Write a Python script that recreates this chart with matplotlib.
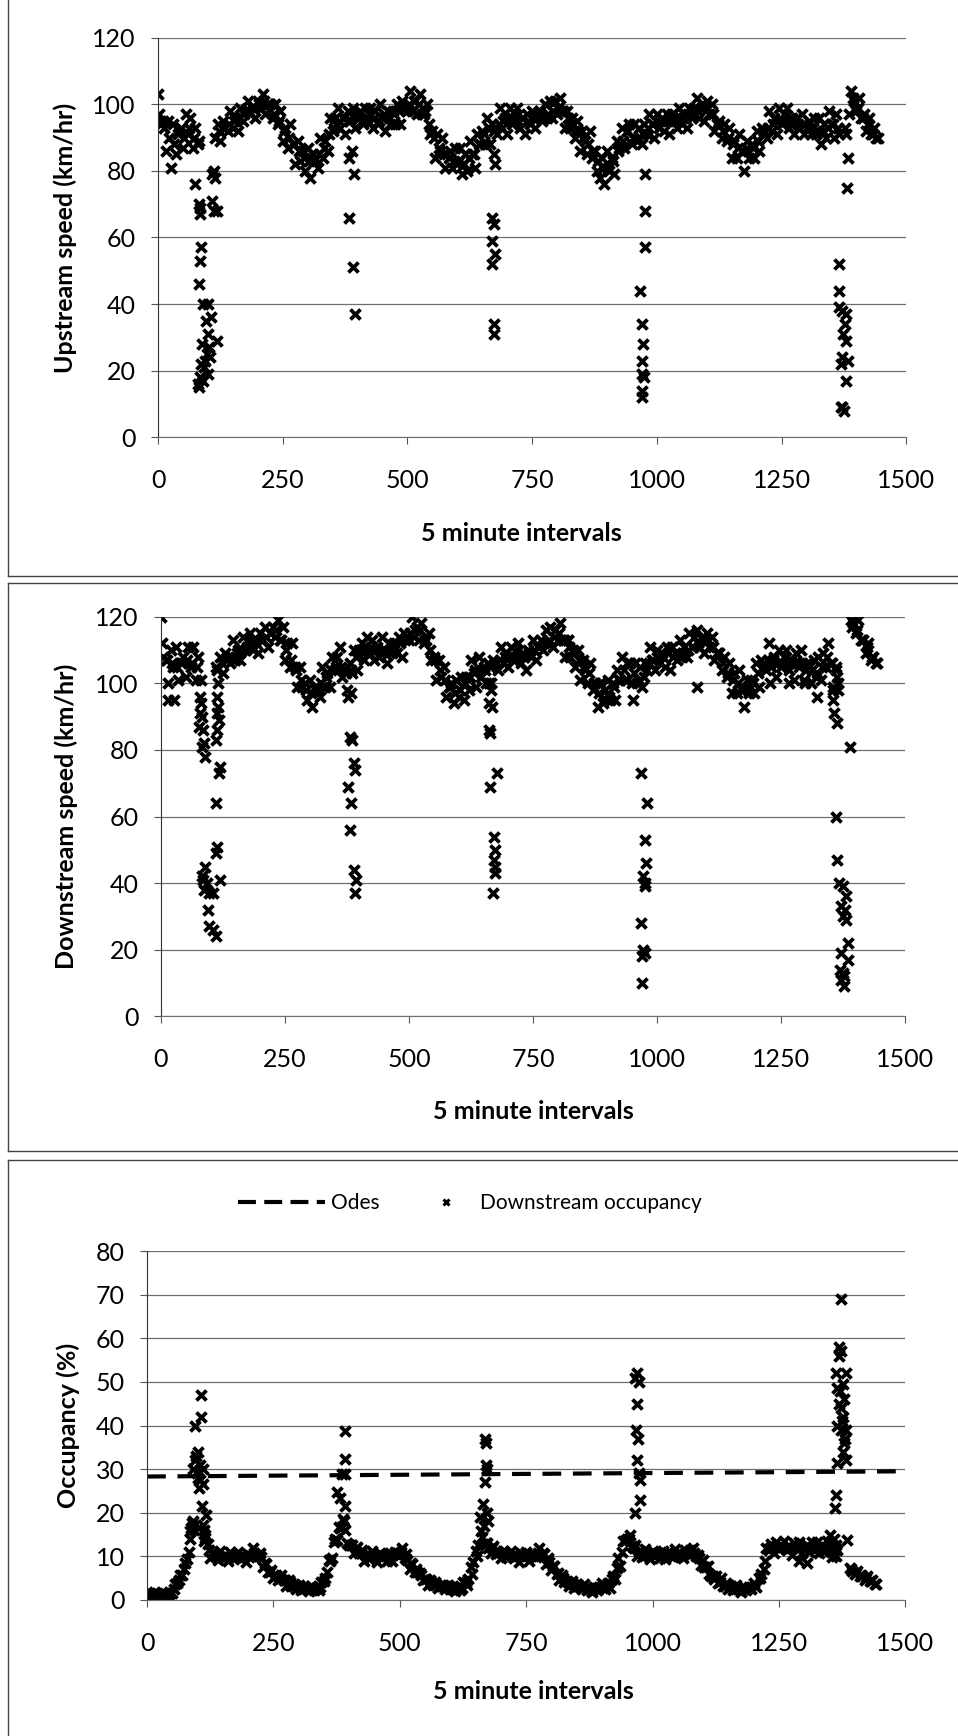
import matplotlib
matplotlib.use("Agg")
import matplotlib.pyplot as plt
from matplotlib.lines import Line2D
import numpy as np

plt.rcParams['font.family'] = ['Lato', 'DejaVu Sans']

nan = np.nan
STEP = 5  # band readings taken every 5 intervals from 0
MID_STEP = 10  # middle-of-band readings every 10 intervals from 2.5

# ------------------------------
# Upstream speed (km/hr)
# ------------------------------
up_band = [
    103, 94, 95, 86, 95, 81, 94, 85, 91, 93, 87, 97,
    91, 96, 87, 93, 88, nan, nan, nan, nan, nan, nan, 90,
    94, 89, 95, 93, 92, 98, 93, 96, 92, 99, 95, 98,
    101, 97, 99, 96, 101, 99, 103, 97, 100, 100, 96, 100,
    94, 98, 89, 93, 87, 94, 88, 82, 89, 83, 86, 80,
    87, 78, 85, 84, 81, 90, 84, 89, 86, 96, 92, 96,
    99, 93, 96, 91, 98, 95, 99, 93, 96, 98, 94, 99,
    95, 99, 93, 98, 94, 100, 96, 92, 98, 94, 98, 94,
    100, 94, 101, 99, 98, 104, 98, 101, 97, 103, 97, 98,
    100, 91, 92, 84, 91, 86, 90, 81, 85, 86, 81, 87,
    82, 87, 79, 85, 80, 89, 85, 81, 91, 88, 92, 88,
    96, 88, 94, 93, 91, 99, 93, 96, 91, 99, 94, 97,
    99, 93, 96, 91, 97, 94, 98, 93, 96, 98, 95, 100,
    96, 101, 96, 101, 97, 102, 98, 93, 98, 93, 96, 90,
    95, 86, 92, 89, 85, 92, 84, 86, 80, 78, 84, 76,
    86, 80, 84, 79, 89, 87, 93, 87, 92, 94, 88, 94,
    89, 93, 88, 94, 91, 97, 94, 90, 97, 93, 96, 92,
    97, 91, 97, 95, 93, 99, 94, 97, 93, 99, 96, 99,
    102, 96, 100, 95, 101, 97, 100, 92, 94, 95, 90, 94,
    89, 93, 84, 89, 84, 91, 86, 80, 89, 84, 88, 84,
    92, 86, 93, 92, 90, 98, 92, 96, 91, 99, 94, 97,
    99, 93, 96, 91, 96, 93, 97, 91, 93, 95, 91, 96,
    91, 96, 88, 94, 90, 98, 94, 90, 97, 91, nan, nan,
    nan, 97, 104, 101, 98, 102, 96, 97, 92, 96, 91, 93,
    90,
]
up_mid = [
    97, 93, 90, 88, 92, 90, 93, 90, 89, nan, nan, nan,
    92, 93, 94, 95, 96, 97, 98, 99, 100, 101, 100, 97,
    95, 92, 90, 88, 86, 84, 83, 83, 85, 87, 91, 93,
    95, 96, 95, 97, 96, 95, 97, 96, 95, 97, 96, 97,
    98, 99, 100, 101, 100, 97, 94, 90, 87, 85, 84, 83,
    83, 82, 84, 85, 88, 91, 93, 92, 94, 95, 96, 95,
    95, 96, 95, 96, 97, 96, 97, 98, 99, 98, 96, 94,
    92, 90, 88, 86, 83, 81, 81, 83, 86, 89, 92, 90,
    90, 91, 93, 94, 95, 95, 95, 96, 95, 96, 97, 97,
    98, 99, 99, 97, 94, 92, 90, 88, 87, 86, 86, 87,
    89, 91, 93, 94, 95, 95, 95, 95, 94, 94, 93, 93,
    92, 92, 93, 94, 93, nan, nan, 102, 99, 96, 94, 91,
    90,
]
up_out_x = [75, 82, 84, 85, 87, 84, 82, 90, 101, 96, 107, 100, 118, 88, 82, 85, 92,
            95, 98, 103, 90, 100, 105, 80, 87, 108, 112, 118, 112, 115, 108,
            382, 390, 394, 382, 388, 392,
            670, 673, 670, 675, 670, 673, 673, 673, 675,
            976, 976, 976, 967, 971, 973, 970, 971, 975, 970, 970,
            1383, 1381, 1365, 1366, 1365, 1371, 1379, 1378, 1373, 1380, 1372,
            1384, 1369, 1380, 1372, 1375, 1369, 1378, 1380]
up_out_y = [76, 70, 69, 67, 57, 53, 46, 40, 40, 35, 36, 31, 29, 28, 15, 18, 21,
            23, 25, 27, 17, 19, 24, 16, 22, 71, 68, 68, 80, 78, 79,
            66, 51, 37, 84, 86, 79,
            66, 64, 59, 55, 52, 34, 31, 85, 82,
            79, 68, 57, 44, 34, 28, 23, 19, 18, 14, 12,
            84, 75, 52, 44, 39, 38, 37, 34, 31, 29, 24,
            23, 22, 17, 9, 8, 9, 93, 91]

# ------------------------------
# Downstream speed (km/hr)
# ------------------------------
down_band = [
    120, 108, 107, 100, 110, 105, 111, 101, 106, 108, 102, 111,
    105, 111, 101, 108, 101, nan, nan, nan, nan, nan, 105, 100,
    108, 103, 109, 108, 106, 113, 107, 110, 107, 114, 110, 113,
    115, 110, 113, 109, 115, 113, 117, 111, 115, 117, 114, 119,
    113, 117, 107, 112, 105, 112, 105, 99, 105, 99, 100, 95,
    101, 93, 99, 98, 96, 105, 99, 103, 99, 108, 104, 108,
    111, 102, 104, 98, 106, 103, 110, 104, 110, 112, 107, 114,
    109, 113, 107, 111, 108, 114, 110, 106, 112, 109, 112, 109,
    114, 108, 115, 114, 113, 120, 114, 117, 113, 118, 112, 113,
    115, 107, 108, 101, 107, 102, 105, 96, 99, 100, 94, 101,
    96, 102, 95, 102, 98, 107, 103, 99, 108, 102, 105, 100,
    106, 100, 107, 106, 104, 111, 106, 109, 105, 111, 107, 110,
    112, 106, 109, 104, 110, 108, 113, 107, 111, 113, 110, 116,
    112, 117, 111, 116, 113, 118, 113, 108, 113, 108, 110, 105,
    110, 101, 107, 104, 100, 106, 98, 100, 93, 100, 94, 98,
    101, 95, 100, 95, 104, 101, 108, 101, 106, 106, 100, 106,
    100, 105, 99, 106, 104, 111, 107, 104, 110, 106, 109, 105,
    111, 104, 111, 109, 107, 113, 108, 111, 108, 115, 111, 114,
    116, 111, 114, 109, 115, 111, 114, 107, 109, 109, 104, 108,
    102, 106, 97, 103, 97, 104, 98, 93, 101, 97, 101, 97,
    106, 99, 107, 106, 104, 112, 105, 108, 102, 110, 105, 108,
    110, 104, 107, 101, 109, 105, 110, 101, 104, 105, 100, 107,
    102, 108, 101, 109, 105, 112, 106, 99, 105, 98, nan, nan,
    nan, nan, 119, 118, 115, 119, 113, 113, 109, 112, 107, 108,
    106,
]
down_mid = [
    112, 107, 106, 105, 106, 107, 106, 105, nan, nan, nan, 104,
    106, 107, 108, 109, 110, 111, 111, 112, 113, 114, 115, 116,
    113, 110, 107, 104, 101, 98, 97, 98, 100, 102, 104, 105,
    105, 103, 104, 108, 110, 110, 111, 110, 109, 110, 110, 111,
    112, 113, 115, 116, 116, 113, 110, 107, 104, 101, 99, 97,
    98, 100, 102, 104, 104, 104, 105, 106, 107, 108, 108, 108,
    108, 108, 109, 110, 111, 112, 113, 114, 115, 113, 111, 109,
    107, 105, 103, 100, 97, 95, 96, 99, 101, 104, 106, 103,
    101, 102, 106, 107, 108, 108, 109, 108, 109, 109, 110, 111,
    112, 113, 113, 111, 109, 106, 103, 101, 100, 98, 98, 100,
    103, 105, 107, 107, 106, 106, 106, 106, 106, 106, 106, 104,
    103, 105, 108, 106, 102, nan, nan, 117, 116, 113, 111, 108,
    106,
]
down_out_x = [15, 26, 78, 80, 78, 82, 77, 84, 86, 82, 88, 113, 115, 113, 117, 113,
              110, 120, 117, 110, 112, 110, 118, 88, 85, 92, 97, 105, 86, 95, 97,
              105, 110, 82,
              376, 383, 380, 386, 389, 392, 376, 383, 380, 389, 394, 391,
              661, 666, 662, 668, 661, 664, 663, 678, 671, 674, 671, 673, 674, 669,
              820, 951, 967, 979, 975, 977, 971, 975, 976, 967, 971, 975, 970, 969,
              1080, 1228, 1265, 1298, 1322, 1354, 1355, 1357, 1362, 1388, 1361,
              1362, 1366, 1374, 1381, 1371, 1378, 1374, 1381, 1385, 1371, 1385,
              1368, 1374, 1371, 1376, 1377, 1365, 1360]
down_out_y = [95, 95, 96, 94, 91, 90, 87, 86, 82, 81, 78, 96, 93, 91, 89, 86,
              83, 75, 73, 64, 51, 49, 41, 45, 41, 40, 37, 37, 38, 32, 27,
              26, 24, 42,
              96, 97, 84, 83, 76, 74, 69, 64, 56, 44, 41, 37,
              100, 98, 94, 93, 86, 85, 69, 73, 54, 50, 47, 45, 43, 37,
              113, 95, 73, 64, 53, 46, 42, 40, 39, 28, 20, 19, 18, 10,
              99, 100, 100, 100, 96, 98, 95, 91, 88, 81, 60,
              47, 40, 39, 36, 33, 32, 30, 29, 22, 19, 17,
              14, 13, 11, 9, 12, 100, 104]

# ------------------------------
# Downstream occupancy (%)
# ------------------------------
occ_band = [
    1.9, 0.9, 1.3, 0.5, 1.6, 1.1, 1.8, 0.6, 1.2, 1.5, 1.6, 3.6,
    3.8, 5.8, 5.7, 8.4, 9.4, 14.0, 17.0, nan, nan, nan, 17.2, 14.2,
    12.8, 9.7, 11.0, 10.0, 9.2, 11.3, 9.5, 10.3, 9.0, 11.0, 9.7, 10.5,
    11.0, 9.3, 10.0, 8.6, 10.5, 10.1, 12.0, 10.0, 10.3, 9.8, 7.6, 8.3,
    6.5, 6.9, 5.0, 5.7, 4.5, 5.6, 4.5, 3.3, 4.5, 3.3, 3.7, 2.5,
    3.4, 2.2, 3.1, 2.7, 2.1, 3.2, 2.2, 2.8, 2.2, 4.1, 4.4, 6.3,
    9.2, 9.5, 13.2, 13.8, 16.7, 16.8, 18.0, 13.0, 12.5, 12.5, 10.8, 12.2,
    10.8, 11.5, 9.0, 10.5, 9.3, 11.2, 10.0, 8.8, 10.7, 9.5, 10.2, 9.0,
    10.7, 9.0, 11.0, 10.8, 10.3, 12.0, 9.5, 9.2, 7.0, 8.3, 6.3, 6.3,
    6.1, 4.6, 4.7, 3.4, 4.5, 3.5, 4.1, 2.7, 3.2, 3.4, 2.5, 3.5,
    2.6, 3.3, 2.0, 3.0, 2.3, 4.0, 4.0, 4.7, 7.6, 8.6, 11.2, 12.5,
    15.7, 12.8, 13.0, 12.0, 10.8, 12.4, 10.5, 11.0, 9.5, 11.3, 9.8, 10.5,
    11.2, 9.5, 10.2, 8.8, 10.7, 9.8, 11.0, 9.0, 10.0, 10.5, 9.8, 12.0,
    10.3, 10.6, 8.2, 8.6, 6.9, 7.7, 6.0, 4.5, 5.6, 4.2, 4.4, 3.2,
    4.3, 2.7, 3.6, 3.1, 2.5, 3.6, 2.3, 2.7, 1.8, 3.0, 2.3, 2.9,
    3.8, 2.6, 3.5, 2.7, 4.8, 4.8, 7.3, 7.7, 11.0, 13.4, 13.9, 14.8,
    12.3, 12.5, 10.0, 11.2, 9.8, 11.7, 10.5, 9.3, 11.2, 10.0, 10.7, 9.5,
    11.2, 9.3, 11.0, 10.5, 9.8, 11.7, 10.0, 10.7, 9.5, 11.5, 10.8, 11.5,
    12.0, 10.1, 10.2, 8.0, 9.1, 7.5, 7.8, 5.4, 5.5, 5.4, 3.9, 5.0,
    3.3, 3.9, 2.4, 3.2, 2.3, 3.5, 2.6, 1.7, 3.0, 2.3, 3.0, 2.4,
    3.8, 3.0, 5.1, 6.0, 7.1, 12.0, 11.4, 12.8, 10.8, 13.2, 11.7, 12.6,
    13.6, 11.4, 12.3, 10.4, 13.0, 11.7, 13.3, 10.7, 12.0, 12.6, 11.0, 13.3,
    11.7, 13.3, 10.7, 12.6, 11.0, 13.6, 12.0, 9.9, 12.0, 11.4, nan, nan,
    nan, nan, 7.3, 6.6, 5.9, 6.7, 5.4, 5.5, 4.5, 5.4, 4.4, 4.5,
    3.6,
]
occ_mid = [
    1.3, 1.0, 1.4, 1.1, 1.3, 2.5, 4.5, 7.2, 11.0, 16.0, nan, 16.0,
    11.5, 10.5, 10.0, 10.0, 9.8, 10.0, 9.8, 9.8, 9.9, 10.8, 10.8, 8.5,
    6.5, 5.5, 5.0, 4.5, 4.0, 3.5, 3.0, 2.8, 2.5, 2.6, 3.0, 5.0,
    9.0, 14.0, 16.5, 16.0, 12.7, 11.8, 10.7, 10.2, 10.0, 10.0, 10.0, 10.0,
    10.2, 10.6, 11.0, 10.5, 8.5, 7.0, 5.8, 4.7, 4.2, 3.6, 3.3, 3.1,
    2.8, 2.7, 2.8, 3.5, 6.0, 10.0, 14.5, 13.0, 12.0, 11.3, 10.8, 10.3,
    10.0, 10.0, 10.0, 10.0, 10.0, 10.8, 10.7, 9.5, 7.8, 6.2, 5.0, 4.2,
    3.7, 3.2, 2.8, 2.5, 2.4, 2.6, 3.0, 3.9, 5.5, 9.5, 13.5, 14.0,
    12.0, 11.0, 10.5, 10.5, 10.5, 10.5, 10.5, 10.5, 10.5, 10.5, 10.5, 11.0,
    10.8, 9.5, 7.5, 6.0, 4.8, 4.0, 3.2, 2.9, 2.7, 2.6, 2.5, 2.7,
    3.3, 5.0, 9.0, 12.0, 12.2, 12.0, 11.8, 12.0, 12.2, 12.0, 11.8, 12.0,
    12.0, 12.0, 12.2, 11.5, 12.5, nan, nan, 7.2, 6.2, 5.6, 5.0, 4.3,
    3.7,
]
occ_out_x = [107, 107, 94, 101, 94, 104, 110, 91, 98, 104, 110, 103, 109, 116,
             88, 84, 114, 112, 86, 90, 96, 100,
             392, 392, 385, 392, 376, 382, 392, 388,
             669, 671, 671, 673, 669, 665, 675, 659, 667, 672,
             966, 973, 969, 968, 971, 969, 974, 976, 976, 965, 970,
             1290, 1305, 1352, 1358, 1362,
             1372, 1372, 1369, 1363, 1382, 1376, 1365, 1369, 1379, 1372, 1365,
             1372, 1382, 1379, 1376, 1382, 1365, 1363, 1361, 1385, 1368, 1375,
             1380, 1370, 1377]
occ_out_y = [47, 42, 40, 34, 32, 31, 30, 30, 29, 27.5, 26.6, 25.7, 21.6, 19.4,
             17.6, 15.8, 14.9, 13.5, 16.5, 18, 33, 28,
             38.7, 32.4, 28.8, 28.8, 24.8, 23.4, 21.6, 18.5,
             37, 36, 31, 30, 27, 22, 18, 19, 17, 20,
             51, 50, 45, 39, 37, 32, 29, 27.5, 23, 20, 52,
             9, 8.5, 15, 14, 10,
             69, 57, 56, 52, 52, 49.5, 48.6, 45, 46, 44, 40,
             39, 39, 36, 34, 32, 31.5, 24, 21, 13.7, 58, 41,
             37, 48, 42]

odes_x = [0, 1500]
odes_y = [28.3, 29.5]

x_ticks = [0, 250, 500, 750, 1000, 1250, 1500]


def style_axes(ax, yticks, ylabel, ylab_x, xlab_x, xlab_y):
    ax.set_xlim(0, 1500)
    ax.set_ylim(yticks[0], yticks[-1])
    ax.set_xticks(x_ticks)
    ax.set_yticks(yticks)
    ax.yaxis.grid(True, color='#6e6e6e', lw=0.9)
    ax.set_axisbelow(True)
    for s in ['top', 'right']:
        ax.spines[s].set_visible(False)
    ax.spines['left'].set_color('#333333')
    ax.spines['bottom'].set_color('#6e6e6e')
    ax.tick_params(axis='y', length=5, pad=11, labelsize=18, color='#555555')
    ax.tick_params(axis='x', length=5, pad=18, labelsize=18, color='#555555')
    ax.set_ylabel(ylabel, fontsize=18, fontweight='bold')
    ax.yaxis.set_label_coords(ylab_x, 0.5)
    ax.set_xlabel("5 minute intervals", fontsize=18, fontweight='bold')
    ax.xaxis.set_label_coords(xlab_x, xlab_y)


def draw_series(ax, band, mid, out_x, out_y):
    xb = np.arange(len(band)) * STEP
    xm = 2.5 + np.arange(len(mid)) * MID_STEP
    ax.scatter(xb, band, **mk)
    ax.scatter(xm, mid, **mk)
    ax.scatter(out_x, out_y, **mk)


fig = plt.figure(figsize=(9.58, 17.36), dpi=100)

mk = dict(marker='x', color='black', s=52, linewidths=2.7)

# Panel 1
ax1 = fig.add_axes([0.165, 0.7481, 0.781, 0.2302])
draw_series(ax1, up_band, up_mid, up_out_x, up_out_y)
style_axes(ax1, [0, 20, 40, 60, 80, 100, 120], "Upstream speed (km/hr)",
           -0.108, 0.485, -0.213)

# Panel 2
ax2 = fig.add_axes([0.168, 0.4145, 0.777, 0.2303])
draw_series(ax2, down_band, down_mid, down_out_x, down_out_y)
style_axes(ax2, [0, 20, 40, 60, 80, 100, 120], "Downstream speed (km/hr)",
           -0.111, 0.5, -0.21)

# Panel 3
ax3 = fig.add_axes([0.1535, 0.0784, 0.7915, 0.2009])
ax3.plot(odes_x, odes_y, color='black', lw=3, dashes=(4.5, 2.8))
draw_series(ax3, occ_band, occ_mid, occ_out_x, occ_out_y)
style_axes(ax3, [0, 10, 20, 30, 40, 50, 60, 70, 80], "Occupancy (%)",
           -0.089, 0.509, -0.229)

# legend above the occupancy chart (two pieces so each handle keeps its own width)
fig.legend([Line2D([], [], color='black', lw=3, dashes=(4.3, 2.0))], ['Odes'],
           loc='center left', bbox_to_anchor=(0.248, 0.3068), frameon=False,
           fontsize=15, handlelength=4.2, handletextpad=0.3, borderpad=0,
           borderaxespad=0)
fig.legend([Line2D([], [], color='black', marker='x', ls='none', ms=5, mew=2.2)],
           ['Downstream occupancy'],
           loc='center left', bbox_to_anchor=(0.455, 0.3068), frameon=False,
           fontsize=15, handlelength=1.0, handletextpad=1.1, borderpad=0,
           borderaxespad=0)

# chart-area borders of the three pasted charts
frame = dict(color='#444444', lw=1.0, transform=fig.transFigure)
fig.add_artist(Line2D([0.008, 0.008], [1.0, 0.668], **frame))
fig.add_artist(Line2D([0.008, 1.0], [0.668, 0.668], **frame))
fig.add_artist(Line2D([0.008, 1.0], [0.664, 0.664], **frame))
fig.add_artist(Line2D([0.008, 0.008], [0.664, 0.337], **frame))
fig.add_artist(Line2D([0.008, 1.0], [0.337, 0.337], **frame))
fig.add_artist(Line2D([0.008, 1.0], [0.332, 0.332], **frame))
fig.add_artist(Line2D([0.008, 0.008], [0.332, 0.0], **frame))

fig.savefig("out.png", dpi=100, facecolor='white')
